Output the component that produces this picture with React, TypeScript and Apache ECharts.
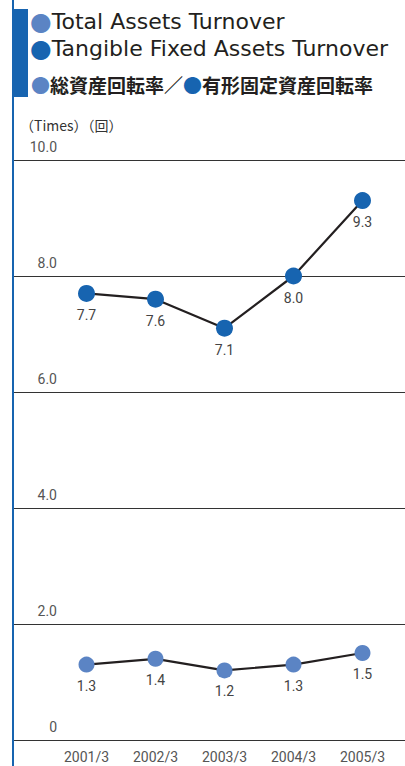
import React, { useEffect, useRef } from "react";
import * as echarts from "echarts";

const categories = ["2001/3", "2002/3", "2003/3", "2004/3", "2005/3"];
const tangibleFixed = [7.7, 7.6, 7.1, 8.0, 9.3];
const totalAssets = [1.3, 1.4, 1.2, 1.3, 1.5];
const yMin = 0;
const yMax = 10;
const yInterval = 2;

const DARK_BLUE = "#1764b0";
const LIGHT_BLUE = "#5b84c4";
const LINE = "#231f20";

export default function App() {
  const ref = useRef<HTMLDivElement>(null);
  useEffect(() => {
    if (!ref.current) return;
    const chart = echarts.init(ref.current, null, { renderer: "svg" });
    const grids = { top: 160, bottom: 26 };
    const labelStyle = {
      show: true,
      position: "bottom",
      distance: 6,
      color: "#444",
      fontSize: 14,
      fontFamily: "Roboto",
      formatter: (p: any) => Number(p.value).toFixed(1),
    };
    chart.setOption({
      animation: false,
      backgroundColor: "#ffffff",
      grid: [
        { left: 14, right: 0, ...grids },
        { left: 52, right: 8, ...grids },
      ],
      xAxis: [
        { gridIndex: 0, type: "value", min: 0, max: 1, show: false },
        {
          gridIndex: 1,
          type: "category",
          data: categories,
          boundaryGap: true,
          axisLine: { show: false },
          axisTick: { show: false },
          axisLabel: {
            color: "#555",
            fontSize: 14,
            fontFamily: "Roboto",
            margin: 10,
          },
        },
      ],
      yAxis: [
        {
          gridIndex: 0,
          type: "value",
          min: yMin,
          max: yMax,
          interval: yInterval,
          axisLine: { show: false },
          axisTick: { show: false },
          splitLine: { show: true, lineStyle: { color: "#333", width: 1 } },
          axisLabel: {
            inside: true,
            margin: 43,
            align: "right",
            verticalAlign: "bottom",
            padding: [0, 0, 6, 0],
            color: "#555",
            fontSize: 14,
            fontFamily: "Roboto",
            formatter: (v: number) => (v === 0 ? "0" : v.toFixed(1)),
          },
        },
        {
          gridIndex: 1,
          type: "value",
          min: yMin,
          max: yMax,
          interval: yInterval,
          show: false,
          splitLine: { show: false },
        },
      ],
      graphic: [
        { type: "rect", shape: { x: 12, y: 0, width: 2, height: 766 }, style: { fill: DARK_BLUE } },
        { type: "rect", shape: { x: 12, y: 9, width: 16, height: 88 }, style: { fill: DARK_BLUE } },
        {
          type: "text",
          left: 30,
          top: 9,
          style: {
            text: "{b|●}{t|Total Assets Turnover}",
            rich: {
              b: { fill: LIGHT_BLUE, fontSize: 25, lineHeight: 22, fontFamily: "DejaVu Sans" },
              t: { fill: LINE, fontSize: 22, lineHeight: 22, fontFamily: "DejaVu Sans" },
            },
          },
        },
        {
          type: "text",
          left: 30,
          top: 36,
          style: {
            text: "{b|●}{t|Tangible Fixed Assets Turnover}",
            rich: {
              b: { fill: DARK_BLUE, fontSize: 25, lineHeight: 22, fontFamily: "DejaVu Sans" },
              t: { fill: LINE, fontSize: 22, lineHeight: 22, fontFamily: "DejaVu Sans" },
            },
          },
        },
        {
          type: "text",
          left: 31,
          top: 75,
          style: {
            text: "{b1|●}{t|総資産回転率／}{b2|●}{t|有形固定資産回転率}",
            rich: {
              b1: { fill: LIGHT_BLUE, fontSize: 19, fontFamily: "Noto Sans CJK JP" },
              b2: { fill: DARK_BLUE, fontSize: 19, fontFamily: "Noto Sans CJK JP" },
              t: { fill: LINE, fontSize: 19, fontWeight: "bold", fontFamily: "Noto Sans CJK JP" },
            },
          },
        },
        {
          type: "text",
          left: 20,
          top: 118,
          style: {
            text: "（Times）（回）",
            fill: "#333",
            fontSize: 14,
            fontFamily: "Noto Sans CJK JP",
          },
        },
      ],
      series: [
        {
          name: "有形固定資産回転率",
          type: "line",
          xAxisIndex: 1,
          yAxisIndex: 1,
          data: tangibleFixed,
          symbol: "circle",
          symbolSize: 17,
          itemStyle: { color: DARK_BLUE },
          lineStyle: { color: LINE, width: 2.2 },
          label: labelStyle,
        },
        {
          name: "総資産回転率",
          type: "line",
          xAxisIndex: 1,
          yAxisIndex: 1,
          data: totalAssets,
          symbol: "circle",
          symbolSize: 16,
          itemStyle: { color: LIGHT_BLUE },
          lineStyle: { color: LINE, width: 2.2 },
          label: labelStyle,
        },
      ],
    });
    return () => chart.dispose();
  }, []);
  return (
    <div
      ref={ref}
      style={{ position: "fixed", left: 0, top: 0, width: 405, height: 766 }}
    />
  );
}
